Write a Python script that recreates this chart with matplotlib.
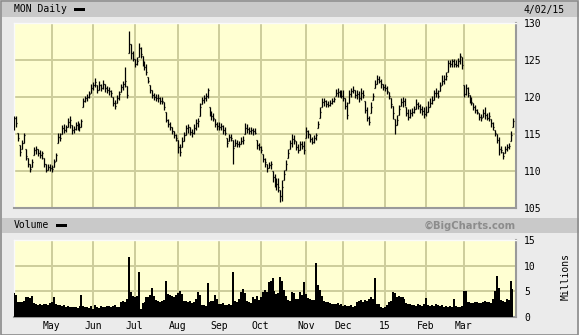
import numpy as np
import matplotlib
matplotlib.use('Agg')
import matplotlib.pyplot as plt
from matplotlib.patches import Rectangle

# MON daily, Apr 2014 - Apr 2015 (one entry per trading day)
lo = [115.5, 116.0, 114.0, 112.0, 113.0, 113.8, 111.5, 110.5, 109.8, 110.5,
      112.2, 112.3, 112.0, 111.8, 111.6, 110.6, 109.8, 110.1, 110.0, 109.8,
      110.5, 111.3, 113.8, 114.0, 115.0, 115.2, 115.3, 115.9, 115.8, 115.0,
      115.1, 115.5, 115.6, 115.4, 115.9, 118.7, 119.3, 119.5, 119.8, 120.6,
      121.0, 121.4, 120.5, 121.0, 120.8, 121.1, 120.7, 120.5, 120.3, 120.0,
      118.8, 118.4, 119.2, 119.6, 120.7, 120.9, 121.4, 119.8, 126.0, 125.2,
      124.8, 124.0, 124.3, 125.4, 125.3, 124.2, 123.6, 123.0, 121.9, 120.5,
      119.8, 119.6, 119.4, 119.3, 119.0, 119.0, 118.2, 116.6, 116.0, 115.6,
      115.0, 114.5, 114.0, 112.5, 112.0, 113.2, 114.0, 114.9, 115.2, 114.8,
      114.6, 115.0, 115.6, 115.9, 117.4, 119.0, 119.2, 119.4, 119.9, 117.5,
      116.9, 116.8, 115.9, 115.6, 115.5, 115.6, 115.0, 114.9, 113.3, 114.0,
      114.1, 111.0, 113.4, 113.2, 113.3, 113.6, 113.6, 115.0, 115.2, 115.0,
      115.0, 114.8, 115.0, 113.0, 112.8, 112.4, 111.2, 110.6, 109.9, 110.4,
      110.3, 108.5, 107.8, 107.5, 107.2, 105.8, 106.0, 108.8, 110.2, 111.8,
      113.0, 113.2, 113.6, 112.8, 112.4, 112.8, 113.0, 112.3, 114.4, 114.5,
      113.9, 113.6, 113.8, 114.2, 115.8, 117.2, 118.7, 118.8, 118.7, 118.6,
      118.8, 119.0, 119.3, 120.2, 120.0, 120.0, 119.8, 119.4, 118.4, 117.0,
      119.2, 120.0, 120.5, 119.9, 119.7, 119.3, 119.6, 119.8, 117.9, 116.8,
      116.2, 117.9, 119.6, 121.2, 121.8, 121.9, 121.2, 120.9, 120.8, 120.4,
      119.7, 118.5, 117.0, 115.0, 116.2, 117.6, 118.8, 118.7, 118.8, 117.4,
      116.9, 117.2, 117.4, 117.8, 118.4, 118.4, 117.8, 117.6, 117.1, 117.4,
      118.0, 118.6, 119.0, 119.6, 120.0, 119.8, 120.8, 121.6, 121.8, 122.3,
      123.4, 124.1, 124.0, 124.1, 124.0, 124.1, 124.5, 123.8, 120.0, 120.3,
      120.0, 119.2, 118.9, 118.3, 117.8, 117.7, 116.9, 116.8, 117.3, 117.0,
      116.9, 116.8, 116.0, 115.5, 114.7, 113.8, 112.2, 112.5, 111.6, 112.5,
      112.7, 113.0, 114.0, 116.0]
hi = [117.5, 117.5, 115.2, 113.5, 114.2, 115.2, 113.0, 111.8, 111.0, 111.6,
      113.2, 113.4, 113.0, 112.8, 112.7, 111.8, 110.9, 110.9, 111.0, 110.8,
      111.6, 112.5, 115.2, 115.1, 116.2, 116.3, 116.2, 117.1, 117.4, 116.2,
      116.1, 116.6, 116.7, 116.5, 117.0, 119.8, 120.2, 120.4, 120.8, 121.7,
      122.0, 122.6, 121.6, 122.2, 121.8, 122.3, 121.8, 121.5, 121.3, 121.0,
      120.0, 119.6, 120.3, 120.8, 121.8, 122.2, 124.0, 121.5, 128.9, 127.2,
      126.2, 125.2, 125.4, 127.3, 126.8, 125.6, 124.8, 124.5, 122.7, 121.6,
      121.0, 120.6, 120.4, 120.4, 120.0, 120.0, 119.3, 118.0, 117.0, 116.6,
      116.0, 115.4, 115.0, 114.2, 113.6, 114.6, 115.3, 116.2, 116.4, 116.0,
      115.7, 116.3, 117.0, 117.2, 119.2, 120.0, 120.3, 120.6, 121.2, 118.6,
      118.1, 117.9, 117.0, 116.6, 116.6, 116.5, 116.2, 115.9, 114.4, 115.0,
      115.0, 114.2, 114.3, 114.2, 114.0, 114.6, 114.7, 116.5, 116.3, 115.9,
      116.0, 115.8, 115.8, 114.2, 113.8, 113.4, 112.3, 111.8, 111.0, 111.2,
      111.4, 110.0, 109.6, 109.0, 109.0, 107.4, 108.8, 110.1, 111.5, 113.0,
      114.2, 115.0, 114.8, 114.0, 113.6, 114.0, 114.0, 114.0, 116.0, 115.6,
      115.0, 114.6, 114.8, 115.2, 116.8, 118.6, 119.8, 119.9, 119.6, 119.5,
      119.6, 119.9, 120.0, 121.1, 121.2, 120.9, 121.0, 120.9, 119.8, 119.3,
      121.0, 121.2, 121.5, 121.0, 121.0, 120.8, 121.2, 120.9, 119.5, 118.6,
      117.5, 119.3, 120.5, 122.3, 123.0, 122.8, 122.4, 121.8, 121.7, 121.5,
      120.7, 119.8, 118.8, 117.0, 117.6, 118.9, 119.8, 120.0, 119.9, 118.6,
      118.4, 118.4, 118.5, 118.8, 119.7, 119.3, 119.0, 118.8, 118.6, 118.8,
      119.4, 119.8, 120.2, 121.0, 121.2, 121.0, 122.0, 123.0, 123.0, 123.4,
      125.0, 125.0, 125.2, 125.1, 125.0, 125.3, 126.0, 125.4, 121.6, 121.8,
      121.4, 120.3, 120.0, 119.2, 118.9, 118.4, 117.9, 117.7, 118.4, 118.7,
      117.9, 118.0, 117.0, 116.6, 115.6, 115.0, 114.6, 113.4, 112.6, 113.4,
      113.6, 113.8, 115.4, 117.2]
cl = [117.2, 116.5, 114.5, 112.6, 113.8, 114.8, 112.0, 111.0, 110.3, 111.2,
      112.8, 113.0, 112.4, 112.2, 112.4, 111.0, 110.2, 110.6, 110.4, 110.3,
      111.2, 112.2, 114.6, 114.5, 115.8, 115.6, 116.0, 116.6, 116.9, 115.5,
      115.7, 116.2, 116.3, 116.0, 116.7, 119.4, 119.8, 120.0, 120.4, 121.2,
      121.6, 122.0, 121.0, 121.6, 121.2, 121.7, 121.2, 121.0, 120.8, 120.5,
      119.2, 118.8, 119.9, 120.4, 121.3, 121.8, 122.2, 120.3, 127.2, 126.0,
      125.2, 124.4, 124.8, 126.6, 125.8, 124.6, 124.0, 123.4, 122.2, 120.9,
      120.3, 120.0, 119.8, 119.9, 119.5, 119.4, 118.6, 116.9, 116.4, 116.0,
      115.4, 114.9, 114.4, 113.2, 112.6, 114.0, 114.8, 115.8, 115.9, 115.3,
      115.1, 115.8, 116.5, 116.8, 118.7, 119.6, 119.8, 120.2, 121.0, 117.9,
      117.4, 117.2, 116.4, 116.1, 116.0, 116.1, 115.5, 115.2, 113.8, 114.6,
      114.5, 113.1, 113.8, 113.7, 113.6, 114.0, 114.2, 115.8, 115.7, 115.4,
      115.5, 115.4, 115.2, 113.5, 113.3, 112.8, 111.6, 111.2, 110.4, 110.8,
      110.9, 109.2, 108.6, 108.2, 107.9, 106.6, 107.8, 109.6, 111.0, 112.5,
      113.8, 114.3, 114.2, 113.3, 112.8, 113.6, 113.4, 112.9, 115.4, 115.0,
      114.3, 113.9, 114.4, 114.8, 116.4, 118.0, 119.3, 119.4, 119.1, 118.9,
      119.2, 119.5, 119.7, 120.6, 120.7, 120.3, 120.2, 119.8, 118.8, 117.6,
      120.4, 120.8, 121.0, 120.3, 120.4, 119.8, 120.6, 120.3, 118.3, 117.2,
      116.6, 118.6, 120.1, 121.8, 122.4, 122.2, 121.7, 121.4, 121.2, 120.8,
      120.2, 119.0, 117.8, 116.2, 116.9, 118.4, 119.3, 119.5, 119.3, 117.9,
      117.3, 117.9, 118.0, 118.4, 119.1, 118.8, 118.4, 118.1, 117.7, 118.0,
      118.7, 119.2, 119.6, 120.5, 120.6, 120.2, 121.5, 122.2, 122.5, 122.8,
      124.6, 124.5, 124.8, 124.4, 124.3, 124.8, 125.6, 124.3, 120.4, 121.2,
      120.6, 119.6, 119.3, 118.7, 118.3, 118.0, 117.3, 117.2, 117.9, 117.6,
      117.2, 117.4, 116.5, 116.0, 115.2, 114.2, 113.0, 112.9, 112.0, 113.0,
      113.2, 113.4, 114.8, 116.8]
# volume, millions of shares
vol = [4.6, 4.2, 3.0, 3.0, 2.9, 3.2, 3.8, 3.9, 3.7, 4.0,
       2.7, 2.5, 2.4, 2.5, 2.4, 2.6, 2.5, 2.4, 2.8, 2.9,
       3.9, 2.6, 2.4, 2.3, 2.2, 2.3, 2.0, 2.1, 1.9, 2.0,
       1.9, 2.0, 1.8, 2.1, 4.3, 2.2, 1.9, 2.0, 1.8, 2.2,
       1.6, 2.3, 2.0, 1.8, 2.1, 2.0, 1.9, 2.1, 2.2, 2.0,
       2.1, 2.3, 1.9, 2.0, 2.9, 3.2, 3.0, 3.5, 11.7, 4.8,
       4.0, 3.9, 4.1, 8.7, 1.6, 2.8, 3.0, 3.8, 3.9, 4.2,
       5.7, 4.0, 3.4, 3.2, 3.0, 3.1, 3.3, 7.1, 4.4, 4.2,
       4.0, 3.9, 4.3, 4.6, 5.0, 4.4, 3.2, 3.1, 3.0, 3.2,
       2.8, 3.0, 3.6, 4.8, 4.2, 2.3, 2.4, 2.2, 6.6, 3.0,
       3.1, 3.2, 4.3, 3.6, 2.6, 2.5, 2.7, 2.4, 2.3, 2.5,
       2.3, 8.7, 3.2, 3.0, 3.5, 4.8, 5.5, 4.6, 3.2, 2.9,
       2.8, 3.9, 3.6, 4.0, 3.3, 3.9, 4.9, 5.2, 4.8, 6.8,
       7.1, 7.6, 5.0, 4.4, 4.6, 7.7, 7.0, 5.2, 4.0, 3.4,
       3.2, 4.8, 4.6, 3.6, 3.5, 4.8, 4.2, 6.9, 4.5, 3.7,
       3.5, 3.3, 3.4, 10.5, 6.2, 5.2, 4.0, 3.2, 3.0, 2.9,
       2.7, 2.6, 2.5, 2.6, 2.8, 2.4, 2.6, 2.2, 2.3, 2.1,
       2.2, 2.4, 2.0, 2.1, 2.9, 3.2, 3.4, 3.0, 3.3, 3.2,
       3.5, 3.9, 3.6, 7.6, 2.6, 2.5, 1.9, 1.8, 2.0, 2.3,
       3.0, 3.2, 4.8, 4.6, 3.9, 4.0, 3.8, 3.9, 3.6, 2.8,
       2.6, 2.5, 2.3, 2.4, 2.2, 2.5, 2.3, 2.2, 2.6, 3.7,
       2.4, 2.2, 2.3, 2.1, 2.5, 2.4, 2.2, 2.3, 2.0, 2.1,
       1.9, 2.2, 2.0, 3.5, 2.1, 1.9, 2.0, 2.2, 5.0, 5.0,
       3.0, 2.9, 2.7, 2.8, 2.9, 3.0, 2.8, 2.7, 2.9, 3.1,
       2.9, 3.0, 2.8, 3.5, 5.0, 7.9, 5.6, 3.4, 3.2, 3.0,
       3.5, 3.4, 7.1, 5.5]

month_pos = [19, 40, 61, 83, 104, 125, 148, 167, 188, 209, 228]
month_lbl = ['May', 'Jun', 'Jul', 'Aug', 'Sep', 'Oct', 'Nov', 'Dec', '15', 'Feb', 'Mar']
price_ticks = [105, 110, 115, 120, 125, 130]
vol_ticks = [0, 5, 10, 15]

W, H = 579, 335
BG = '#ebebeb'
BAR = '#c9c9c9'
FACE = '#ffffd2'
GRID = '#cdcd9b'
MONO = 'DejaVu Sans Mono'


def box(x0, y0, x1, y1):
    # pixel box (top-left origin) -> figure fraction rect
    return [x0 / W, 1 - y1 / H, (x1 - x0) / W, (y1 - y0) / H]


def style_panel(ax):
    ax.set_facecolor(FACE)
    for s in ['top', 'left']:
        ax.spines[s].set_color('#fafafa')
        ax.spines[s].set_linewidth(1.0)
    for s in ['bottom', 'right']:
        ax.spines[s].set_color('#9a9a9a')
        ax.spines[s].set_linewidth(1.5)
    ax.tick_params(length=0, labelsize=7)
    for v in month_pos:
        ax.axvline(v, color=GRID, lw=1.4, zorder=0)


fig = plt.figure(figsize=(W / 100, H / 100), dpi=100, facecolor=BG)

# header strips
fig.patches.append(Rectangle((2 / W, 1 - 17 / H), 577 / W, 15 / H, transform=fig.transFigure,
                             facecolor=BAR, edgecolor='none', zorder=0))
fig.patches.append(Rectangle((2 / W, 1 - 233 / H), 577 / W, 15 / H, transform=fig.transFigure,
                             facecolor=BAR, edgecolor='none', zorder=0))
# outer frame
fig.patches.append(Rectangle((0.5 / W, 0.5 / H), (W - 1.5) / W, (H - 1.5) / H, transform=fig.transFigure,
                             facecolor='none', edgecolor='#8a8a8a', lw=1.2, zorder=5))

fig.text(14 / W, 1 - 9.5 / H, 'MON Daily', family=MONO, size=7, va='center', ha='left')
fig.patches.append(Rectangle((74 / W, 1 - 11 / H), 11 / W, 3 / H, transform=fig.transFigure,
                             facecolor='black', edgecolor='none'))
fig.text(523 / W, 1 - 9.5 / H, '4/02/15', family=MONO, size=7, va='center', ha='left')
fig.text(14 / W, 1 - 225.5 / H, 'Volume', family=MONO, size=7, va='center', ha='left')
fig.patches.append(Rectangle((56 / W, 1 - 227 / H), 11 / W, 3 / H, transform=fig.transFigure,
                             facecolor='black', edgecolor='none'))
fig.text(516 / W, 1 - 225.5 / H, '\u00a9BigCharts.com', family='DejaVu Sans', weight='bold',
         size=7.2, color='#8c8c8c', va='center', ha='right')

idx = np.arange(len(cl))
xlim = (-0.25, 254.6)

# price panel: OHLC-style bars, left tick at prior close
ax1 = fig.add_axes(box(14, 23, 516, 208))
style_panel(ax1)
for v in price_ticks[1:-1]:
    ax1.axhline(v, color=GRID, lw=1.4, zorder=0)
op = np.clip(np.r_[cl[0], cl[:-1]], lo, hi)
ax1.vlines(idx, lo, hi, color='black', lw=0.9, zorder=3)
ax1.hlines(cl, idx, idx + 0.5, color='black', lw=0.9, zorder=3)
ax1.hlines(op, idx - 0.5, idx, color='black', lw=0.9, zorder=3)
ax1.set_xlim(*xlim)
ax1.set_ylim(105, 130)
ax1.set_xticks([])
ax1.set_yticks(price_ticks)
ax1.yaxis.tick_right()
ax1.set_yticklabels([str(t) for t in price_ticks], family=MONO)
ax1.tick_params(axis='y', pad=6)

# volume panel
ax2 = fig.add_axes(box(14, 240, 516, 317))
style_panel(ax2)
for v in vol_ticks[1:-1]:
    ax2.axhline(v, color=GRID, lw=1.4, zorder=0)
ax2.fill_between(idx, vol, step='mid', color='black', lw=0, zorder=3)
ax2.set_xlim(*xlim)
ax2.set_ylim(0, 15)
ax2.set_yticks(vol_ticks)
ax2.yaxis.tick_right()
ax2.set_yticklabels([str(t) for t in vol_ticks], family=MONO)
ax2.tick_params(axis='y', pad=6)
ax2.set_xticks(month_pos)
ax2.set_xticklabels(month_lbl, family=MONO)
ax2.tick_params(axis='x', pad=3)
fig.text(566 / W, 1 - 277 / H, 'Millions', family=MONO, size=7, rotation=90, va='center', ha='center')

fig.savefig('out.png', dpi=100, facecolor=BG)
